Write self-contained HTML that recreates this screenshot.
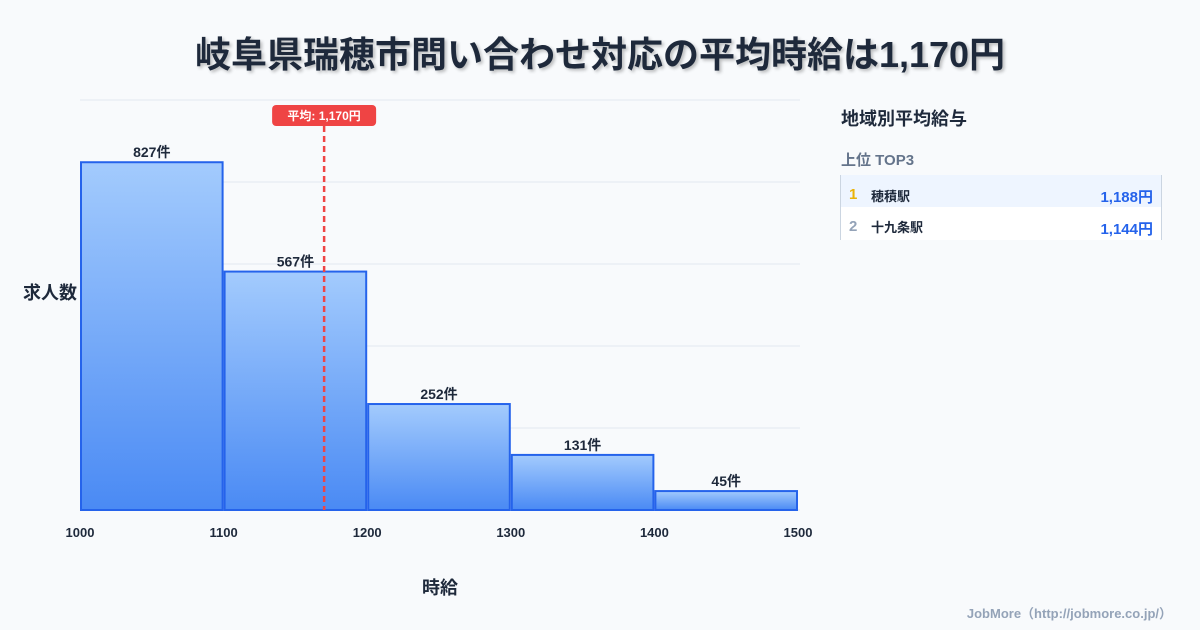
<!DOCTYPE html>
<html><head><meta charset="utf-8"><style>
body{margin:0;width:1200px;height:630px;background:#f8fafc;font-family:"Liberation Sans","Noto Sans CJK JP",sans-serif;position:relative;overflow:hidden;color:#1e293b}
.t{position:absolute}
</style></head><body>
<div class="t" style="left:0;width:1200px;top:26px;text-align:center;font-size:36px;font-weight:bold;color:#1e293b;text-shadow:2px 2px 3px rgba(0,0,0,0.25)">岐阜県瑞穂市問い合わせ対応の平均時給は1,170円</div>
<svg class="t" style="left:0;top:0" width="830" height="630">
<defs><linearGradient id="g" x1="0" y1="0" x2="0" y2="1"><stop offset="0" stop-color="#a3cbfd"/><stop offset="1" stop-color="#4a8af4"/></linearGradient></defs>
<g id="grid"></g><g id="bars"></g><g id="xt"></g><g id="avg"></g>
<text x="50" y="299" font-size="18" font-weight="bold" text-anchor="middle" fill="#1e293b">求人数</text>
<text x="440" y="594" font-size="18" font-weight="bold" text-anchor="middle" fill="#1e293b">時給</text>
</svg>
<div class="t" style="left:841px;top:105px;font-size:18px;font-weight:bold">地域別平均給与</div>
<div class="t" style="left:841px;top:149px;font-size:15px;font-weight:bold;color:#64748b">上位 TOP3</div>
<div class="t" style="left:840px;top:175px;width:320px;height:65px;border-left:1px solid #cbd5e1;border-right:1px solid #cbd5e1;background:#fff">
<div style="height:32px;background:#eef5ff;position:relative;font-size:13px;font-weight:bold">
<span style="position:absolute;left:8px;top:11px;color:#eab308;font-size:15px">1</span><span style="position:absolute;left:30px;top:11px">穂積駅</span><span style="position:absolute;right:8px;top:11px;color:#2563eb;font-size:15px">1,188円</span></div>
<div style="height:32px;position:relative;font-size:13px;font-weight:bold">
<span style="position:absolute;left:8px;top:11px;color:#94a3b8;font-size:15px">2</span><span style="position:absolute;left:30px;top:10px">十九条駅</span><span style="position:absolute;right:8px;top:11px;color:#2563eb;font-size:15px">1,144円</span></div>
</div>
<div class="t" style="right:28px;top:603px;font-size:13px;font-weight:bold;color:#94a3b8">JobMore（http://jobmore.co.jp/）</div>
<script>
const binStarts=[1000,1100,1200,1300,1400];
const counts=[827,567,252,131,45];
const xTicks=[1000,1100,1200,1300,1400,1500];
const avgValue=1170;
const avgLabel="平均: 1,170円";
const NS="http://www.w3.org/2000/svg";
const x=v=>80+(v-1000)*(718/500);
const yMax=975;const y=v=>510-v*(410/yMax);
function mk(p,tag,a){const e=document.createElementNS(NS,tag);for(const k in a)e.setAttribute(k,a[k]);document.getElementById(p).appendChild(e);return e;}
for(let i=0;i<=5;i++){const e=mk('grid','line',{x1:80,x2:800,y1:510-i*82,y2:510-i*82,stroke:'#e2e8f0','stroke-width':1});

}
binStarts.forEach((b,i)=>{const r=mk('bars','rect',{x:x(b)+1,y:y(counts[i]),width:x(b+100)-x(b)-2,height:510-y(counts[i]),fill:'url(#g)',stroke:'#2563eb','stroke-width':2});


const t=mk('bars','text',{x:(x(b)+x(b+100))/2,y:y(counts[i])-5,'text-anchor':'middle','font-size':14,'font-weight':'bold',fill:'#1e293b'});t.textContent=counts[i]+'件';

});
xTicks.forEach(v=>{const t=mk('xt','text',{x:x(v),y:537,'text-anchor':'middle','font-size':13,'font-weight':'bold',fill:'#1e293b'});t.textContent=v;

});
const ax=x(avgValue);
const l=mk('avg','line',{x1:ax,x2:ax,y1:126,y2:510,stroke:'#ef4444','stroke-width':2.5,'stroke-dasharray':'6,4'});


const br=mk('avg','rect',{x:ax-52,y:105,width:104,height:21,rx:4,fill:'#ef4444'});


const bt=mk('avg','text',{x:ax,y:120,'text-anchor':'middle','font-size':12,'font-weight':'bold',fill:'#fff'});bt.textContent=avgLabel;


</script>
</body></html>
